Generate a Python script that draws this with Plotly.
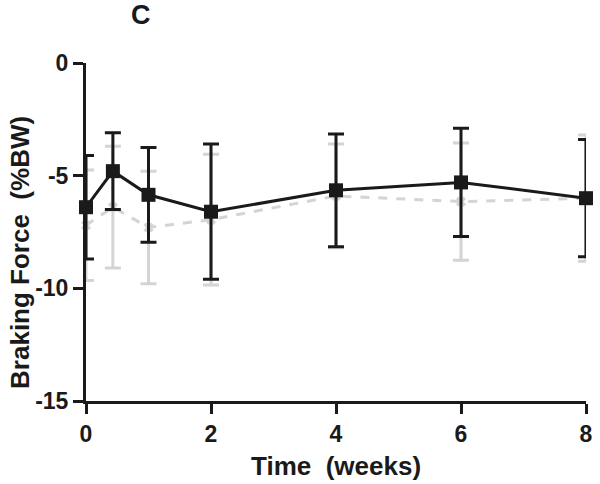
import plotly.graph_objects as go

weeks = [0, 0.43, 1, 2, 4, 6, 8]

black_mean = [-6.4, -4.8, -5.85, -6.6, -5.65, -5.3, -6.0]
black_err = [2.3, 1.7, 2.1, 3.0, 2.5, 2.4, 2.6]

gray_mean = [-7.2, -6.4, -7.3, -6.95, -5.9, -6.15, -6.0]
gray_err = [2.45, 2.7, 2.5, 2.9, 2.3, 2.6, 2.8]

x_ticks = [0, 2, 4, 6, 8]
y_ticks = [0, -5, -10, -15]

FONT = "Liberation Sans, Arial, sans-serif"
BLACK = "#1a1a1a"
GRAY = "#d4d4d4"

W, H = 600, 484
ML, MR, MT, MB = 86, 7, 63, 83
PW, PH = W - ML - MR, H - MT - MB


def px(xp):
    return (xp - ML) / PW


def py(yp):
    return 1 - (yp - MT) / PH


fig = go.Figure()
fig.add_trace(go.Scatter(
    x=weeks, y=gray_mean, mode="lines+markers",
    line=dict(color=GRAY, width=3, dash="dash"),
    marker=dict(symbol="x", size=9, color=GRAY),
    error_y=dict(type="data", array=gray_err, visible=True, color=GRAY,
                 thickness=3, width=8),
    cliponaxis=False, showlegend=False,
))
fig.add_trace(go.Scatter(
    x=weeks, y=black_mean, mode="lines+markers",
    line=dict(color=BLACK, width=3),
    marker=dict(symbol="square", size=14, color=BLACK),
    error_y=dict(type="data", array=black_err, visible=True, color=BLACK,
                 thickness=3, width=8),
    cliponaxis=False, showlegend=False,
))

tickfont = dict(size=23, family=FONT, color=BLACK, weight="bold")
titlefont = dict(size=26, family=FONT, color=BLACK, weight="bold")

fig.update_layout(
    width=W, height=H,
    margin=dict(l=ML, r=MR, t=MT, b=MB),
    paper_bgcolor="white", plot_bgcolor="white",
    font=dict(family=FONT, color=BLACK),
    xaxis=dict(
        range=[0, 8], tickvals=x_ticks, ticktext=[str(v) for v in x_ticks],
        showgrid=False, zeroline=False, showline=True, linecolor=BLACK,
        linewidth=3, ticks="outside", ticklen=10, tickwidth=3, tickcolor=BLACK,
        tickfont=tickfont, ticklabeloverflow="allow",
    ),
    yaxis=dict(
        range=[-15, 0], tickvals=y_ticks, ticktext=[str(v) for v in y_ticks],
        showgrid=False, zeroline=False, showline=True, linecolor=BLACK,
        linewidth=3, ticks="outside", ticklen=10, tickwidth=3, tickcolor=BLACK,
        tickfont=tickfont, ticklabeloverflow="allow",
    ),
    annotations=[
        dict(text="C", x=px(142), y=py(15), xref="paper", yref="paper",
             showarrow=False, xanchor="center", yanchor="middle",
             font=dict(size=27, family=FONT, color=BLACK, weight="bold")),
        dict(text="Time\u00a0\u00a0(weeks)", x=px(339.5), y=py(466),
             xref="paper", yref="paper", showarrow=False,
             xanchor="center", yanchor="middle", font=titlefont),
        dict(text="Braking Force\u00a0\u00a0(%BW)", x=px(19), y=py(252),
             xref="paper", yref="paper", showarrow=False, textangle=-90,
             xanchor="center", yanchor="middle", font=titlefont),
    ],
)

fig.write_html(
    "out.html",
    config={"displayModeBar": False},
    post_script=(
        "document.documentElement.style.overflow='hidden';"
        "document.body.style.margin='0';document.body.style.padding='0';"
        "document.body.style.overflow='hidden';"
        "document.querySelectorAll('.plotly-graph-div, .svg-container, svg.main-svg')"
        ".forEach(function(e){e.style.overflow='hidden';});"
    ),
)
